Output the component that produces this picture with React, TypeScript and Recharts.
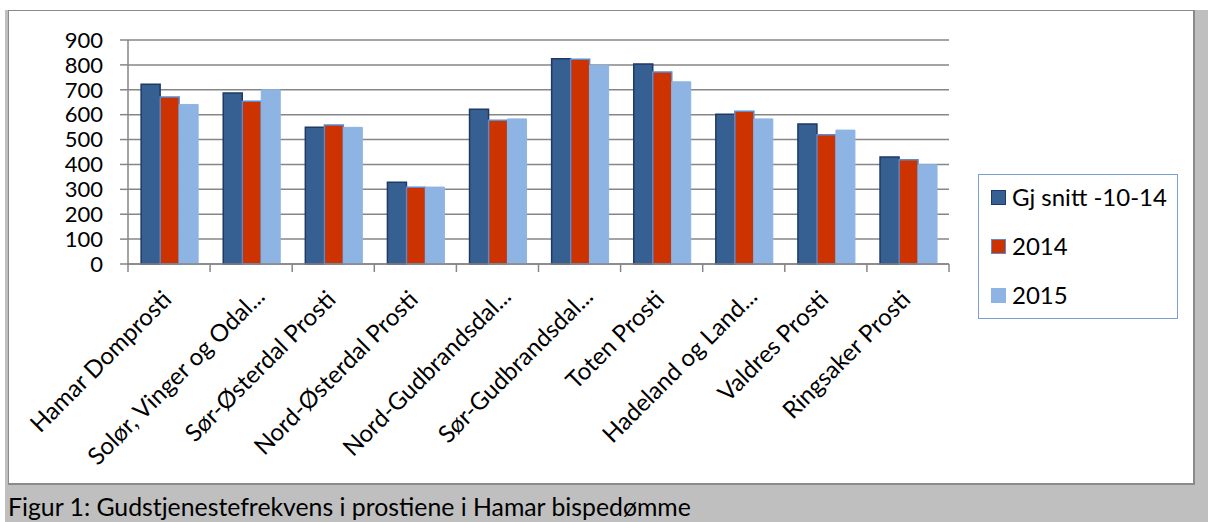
import React from 'react';
import { BarChart, Bar, XAxis, YAxis, CartesianGrid, Legend } from 'recharts';

const categories = [
  'Hamar Domprosti',
  'Solør, Vinger og Odal...',
  'Sør-Østerdal Prosti',
  'Nord-Østerdal Prosti',
  'Nord-Gudbrandsdal...',
  'Sør-Gudbrandsdal...',
  'Toten Prosti',
  'Hadeland og Land...',
  'Valdres Prosti',
  'Ringsaker Prosti',
];
const avg1014 = [722, 687, 549, 328, 622, 825, 804, 602, 563, 430];
const y2014 = [671, 654, 558, 308, 578, 823, 771, 614, 519, 419];
const y2015 = [641, 700, 549, 309, 583, 799, 732, 583, 538, 399];
const yTicks = [0, 100, 200, 300, 400, 500, 600, 700, 800, 900];
const seriesNames = ['Gj snitt -10-14', '2014', '2015'];
const captionText = 'Figur 1: Gudstjenestefrekvens i prostiene i Hamar bispedømme';

const data = categories.map((name, i) => ({
  name,
  a: avg1014[i],
  b: y2014[i],
  c: y2015[i],
}));

const FONT = 'Lato, "Open Sans", sans-serif';
const AXIS = '#868686';
const seriesStyles = [
  { fill: '#376092', stroke: '#1f3864' },
  { fill: '#cc3300', stroke: '#5b8bd0' },
  { fill: '#8eb4e3', stroke: '#8eb4e3' },
];

const XTick = (props: any) => {
  const { x, y, payload, index, width, visibleTicksCount } = props;
  const n = visibleTicksCount || categories.length;
  const bw = (typeof width === 'number' && width > 0 ? width : 821) / n;
  const label = String(payload.value);
  const truncated = label.endsWith('...');
  const dx = truncated ? 15 : 4;
  const dy = truncated ? 34 : 37;
  return (
    <g>
      <line x1={x - bw / 2} x2={x - bw / 2} y1={y} y2={y + 8} stroke={AXIS} strokeWidth={1.5} />
      {index === n - 1 && (
        <line x1={x + bw / 2} x2={x + bw / 2} y1={y} y2={y + 8} stroke={AXIS} strokeWidth={1.5} />
      )}
      <text
        transform={`translate(${x + dx},${y + dy}) rotate(-45)`}
        textAnchor="end"
        fontFamily={FONT}
        fontSize={24}
        fill="#000"
      >
        {label}
      </text>
    </g>
  );
};

const LegendContent = (props: any) => {
  const payload = [...(props.payload || [])].sort(
    (p: any, q: any) => seriesNames.indexOf(p.value) - seriesNames.indexOf(q.value)
  );
  return (
    <div
      style={{
        boxSizing: 'border-box',
        width: 200,
        height: 145,
        border: '1px solid #7a9fd3',
        background: '#fff',
        position: 'relative',
        fontFamily: FONT,
        fontSize: 24,
        color: '#000',
      }}
    >
      {payload.map((p: any, i: number) => {
        const st = seriesStyles[Math.max(0, seriesNames.indexOf(p.value))];
        return (
          <div
            key={i}
            style={{
              position: 'absolute',
              left: 12,
              top: 9 + i * 49,
              height: 26,
              display: 'flex',
              alignItems: 'center',
              whiteSpace: 'nowrap',
            }}
          >
            <span
              style={{
                display: 'inline-block',
                width: 15,
                height: 15,
                boxSizing: 'border-box',
                background: st.fill,
                border: `1.5px solid ${st.stroke}`,
              }}
            />
            <span style={{ marginLeft: 6, lineHeight: '26px' }}>{p.value}</span>
          </div>
        );
      })}
    </div>
  );
};

export default function App() {
  return (
    <div style={{ position: 'absolute', left: 0, top: 0, width: 1208, height: 522, background: '#fff', overflow: 'hidden' }}>
      <div style={{ position: 'absolute', left: 5, top: 10, width: 1203, height: 512, background: '#bfbfbf' }} />
      <div
        style={{
          position: 'absolute',
          left: 8,
          top: 10,
          width: 1187,
          height: 475,
          boxSizing: 'border-box',
          background: '#fff',
          borderTop: '1px solid #8a8a8a',
          borderLeft: '1px solid #8a8a8a',
          borderRight: '2px solid #8a8a8a',
          borderBottom: '2px solid #8a8a8a',
        }}
      />
      <div
        style={{
          position: 'absolute',
          left: 8,
          top: 494,
          fontFamily: FONT,
          fontSize: 24.8,
          lineHeight: '25px',
          color: '#000',
          whiteSpace: 'nowrap',
        }}
      >
        {captionText}
      </div>
      <div style={{ position: 'absolute', left: 0, top: 0 }}>
        <BarChart
          width={1208}
          height={522}
          data={data}
          margin={{ top: 40, right: 259, bottom: 58, left: 68 }}
          barCategoryGap="16%"
          barGap={0}
        >
          <CartesianGrid vertical={false} stroke={AXIS} strokeWidth={1.5} />
          <YAxis
            domain={[0, 900]}
            ticks={yTicks}
            interval={0}
            width={60}
            axisLine={{ stroke: AXIS, strokeWidth: 1.5 }}
            tickLine={{ stroke: AXIS, strokeWidth: 1.5 }}
            tickSize={8}
            tickMargin={17}
            tick={{ fill: '#000', fontSize: 22, fontFamily: FONT }}
          />
          <XAxis
            dataKey="name"
            interval={0}
            height={200}
            tickLine={false}
            tickSize={0}
            tickMargin={0}
            axisLine={{ stroke: AXIS, strokeWidth: 1.5 }}
            tick={<XTick />}
          />
          <Legend
            layout="vertical"
            align="center"
            verticalAlign="middle"
            wrapperStyle={{ left: 978, top: 174, width: 200, height: 145 }}
            content={<LegendContent />}
          />
          <Bar dataKey="a" name={seriesNames[0]} fill={seriesStyles[0].fill} stroke={seriesStyles[0].stroke} strokeWidth={1.5} isAnimationActive={false} />
          <Bar dataKey="b" name={seriesNames[1]} fill={seriesStyles[1].fill} stroke={seriesStyles[1].stroke} strokeWidth={1.5} isAnimationActive={false} />
          <Bar dataKey="c" name={seriesNames[2]} fill={seriesStyles[2].fill} stroke={seriesStyles[2].stroke} strokeWidth={1} isAnimationActive={false} />
        </BarChart>
      </div>
    </div>
  );
}
